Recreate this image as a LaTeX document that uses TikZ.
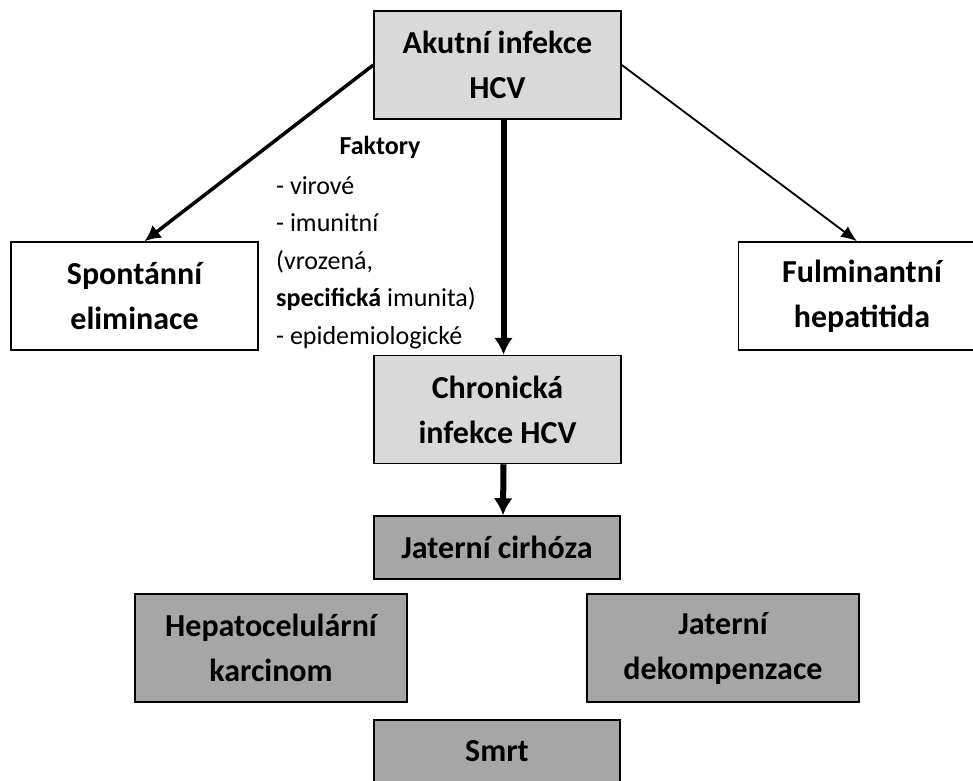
\documentclass[tikz,border=0pt]{standalone}
\usepackage{fontspec}
\setmainfont{Carlito}
\usetikzlibrary{arrows.meta}
\definecolor{lightbox}{HTML}{D9D9D9}
\definecolor{darkbox}{HTML}{A6A6A6}
\begin{document}
\begin{tikzpicture}[x = 1pt, y = -1pt,
        box/.style = {draw = black, line width = 1.5pt, align = center, inner sep = 0pt,
            font = \fontsize{32}{45}\selectfont\bfseries},
        bigbox/.style = {box, minimum width = 247pt, minimum height = 108pt},
        widebox/.style = {box, minimum width = 272pt, minimum height = 108pt},
        flatbox/.style = {box, minimum width = 246pt, minimum height = 63pt},
        thick arrow/.style = {line width = 6pt, -{Latex[length = 17pt, width = 19pt]}},
        mid arrow/.style = {line width = 3.5pt, -{Latex[length = 16pt, width = 16pt]}},
        thin arrow/.style = {line width = 1.8pt, -{Latex[length = 16pt, width = 13pt]}}]
    \useasboundingbox [fill = white] (0, 0) rectangle (973, 780);
    \node [bigbox, fill = lightbox] (akut) at (497.5, 65) {Akutní infekce\\HCV};
    \node [bigbox, fill = white] (spont) at (134.5, 296) {Spontánní\\eliminace};
    \node [bigbox, fill = white] (fulm) at (862, 296) {Fulminantní\\hepatitida};
    \node [bigbox, fill = lightbox] (chron) at (497.5, 409.5) {Chronická\\infekce HCV};
    \node [flatbox, fill = darkbox] (cirh) at (497, 547.5) {Jaterní cirhóza};
    \node [widebox, fill = darkbox] (hepato) at (271, 648) {Hepatocelulární\\karcinom};
    \node [widebox, fill = darkbox] (dekomp) at (723, 648) {Jaterní\\dekompenzace};
    \node [flatbox, fill = darkbox] (smrt) at (497, 751.5) {Smrt};
    \node [font = \fontsize{26}{30}\selectfont\bfseries, inner sep = 0pt] (faktory) at (380, 147) {Faktory};
    \node [font = \fontsize{26}{37.5}\selectfont, align = left, inner sep = 0pt, anchor = north west]
        (seznam) at (276, 176) {- virové\\- imunitní\\(vrozená,\\\textbf{specifická} imunita)\\- epidemiologické};
    \draw [mid arrow] (akut.west) -- ([xshift = 10pt]spont.north);
    \draw [thin arrow] (akut.east) -- ([xshift = -5pt]fulm.north);
    \draw [thick arrow] ([xshift = 6pt]akut.south) -- ([xshift = 6pt]chron.north);
    \draw [thick arrow] ([xshift = 6pt]chron.south) -- ([xshift = 6pt]cirh.north);
\end{tikzpicture}
\end{document}
